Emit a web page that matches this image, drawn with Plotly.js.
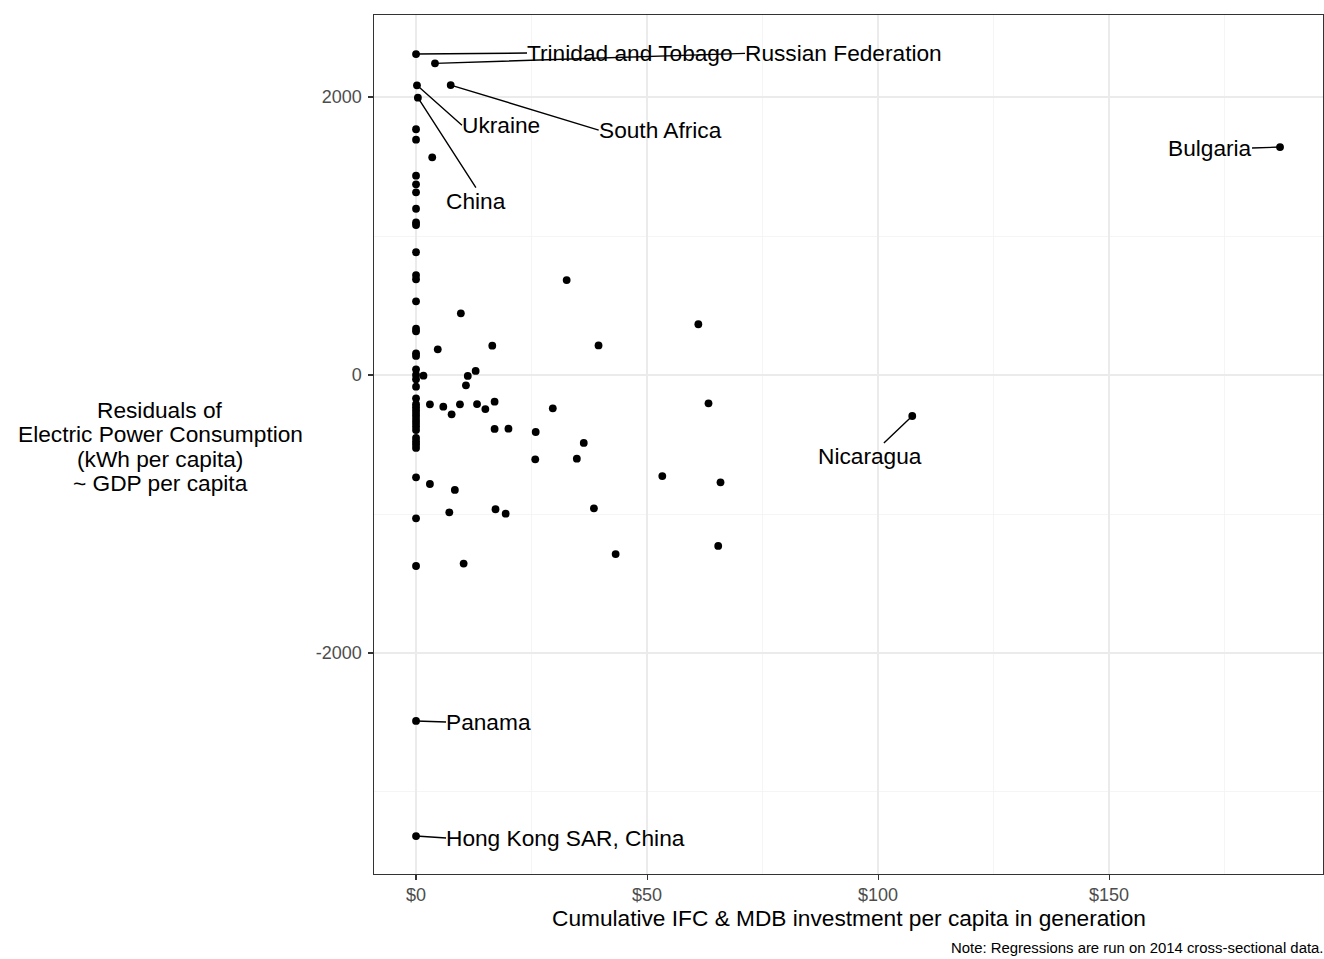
<!DOCTYPE html>
<html>
<head>
<meta charset="utf-8">
<script src="https://cdn.plot.ly/plotly-3.0.1.min.js"></script>
<style>html,body{margin:0;padding:0;background:#fff;}#chart{width:1324px;height:959px;}</style>
</head>
<body>
<div id="chart"></div>
<script>
// Labelled countries
const labeledCountries = ["Trinidad and Tobago", "Russian Federation", "Ukraine", "South Africa", "China", "Bulgaria", "Nicaragua", "Panama", "Hong Kong SAR, China"];
const labeledInvest = [0, 4.1, 0.2, 7.5, 0.4, 187, 107.4, 0, 0];
const labeledResid = [2309, 2242, 2084, 2086, 1995, 1640, -295, -2489, -3317];

// Other countries
const otherInvest = [
  0, 0, 0, 0, 0, 0, 0, 0, 0, 0, 0, 0, 0, 0, 0, 0, 0, 0, 0, 0,
  0, 0, 0, 0, 0, 0, 0, 0, 0, 0, 0, 0, 0, 0, 0, 0, 0,
  3.5, 32.6, 9.7, 61.1, 4.7, 16.5, 39.5, 1.6, 11.2, 12.9, 10.8,
  3.0, 5.9, 7.7, 9.5, 13.2, 15.0, 17.0, 29.6, 63.3, 17.0, 20.0,
  25.9, 36.3, 25.8, 34.8, 53.3, 65.9, 3.0, 8.4, 7.2, 17.2, 19.4,
  38.5, 65.4, 43.2, 10.3
];
const otherResid = [
  1768, 1693, 1434, 1372, 1314, 1196, 1098, 1079, 883, 719, 689, 530, 333, 314, 156, 137, 41, 0, -31, -84,
  -168, -210, -232, -255, -278, -300, -324, -346, -370, -396, -453, -478, -500, -525, -736, -1031, -1374,
  1566, 683, 444, 365, 185, 211, 213, -5, -7, 29, -74,
  -211, -228, -283, -211, -209, -245, -192, -240, -204, -388, -386,
  -410, -489, -607, -602, -727, -772, -784, -827, -988, -966, -998,
  -959, -1230, -1288, -1357
];

// Tick definitions
const xTickVals = [0, 50, 100, 150];
const xTickText = ["$0", "$50", "$100", "$150"];
const yTickVals = [-2000, 0, 2000];
const yTickText = ["-2000", "0", "2000"];

const yTitleLines = ["Residuals of", "Electric Power Consumption", "(kWh per capita)", "~ GDP per capita"];
const xTitle = "Cumulative IFC & MDB investment per capita in generation";
const noteText = "Note: Regressions are run on 2014 cross-sectional data.";

// label placement: [ax px, ay px, xanchor, yanchor]
const labelPlacement = [
  [111, -1, "left", "middle"],
  [310, -10, "left", "middle"],
  [45, 40, "left", "middle"],
  [148, 45, "left", "middle"],
  [58, 90, "center", "top"],
  [-28, 1, "right", "middle"],
  [-42, 40, "center", "middle"],
  [30, 1, "left", "middle"],
  [30, 2, "left", "middle"]
];

const FONT = "Liberation Sans, Arial, sans-serif";
const LABEL_SIZE = 22.7;

const traces = [
  {
    type: "scatter", mode: "markers",
    x: otherInvest, y: otherResid,
    marker: {color: "#000", size: 7.8},
    hoverinfo: "skip", showlegend: false
  },
  {
    type: "scatter", mode: "markers",
    x: labeledInvest, y: labeledResid, text: labeledCountries,
    marker: {color: "#000", size: 7.8},
    showlegend: false
  }
];

const annotations = [];
labeledCountries.forEach((name, i) => {
  const p = labelPlacement[i];
  annotations.push({
    x: labeledInvest[i], y: labeledResid[i], xref: "x", yref: "y",
    text: name, showarrow: true, arrowhead: 0, arrowwidth: 1.4, arrowcolor: "#000",
    ax: p[0], ay: p[1],
    xanchor: p[2], yanchor: p[3], standoff: 0, borderpad: 0, borderwidth: 0,
    font: {family: FONT, size: LABEL_SIZE, color: "#000"}
  });
});
const yTitleY = [410, 434.5, 459, 483.5];
yTitleLines.forEach((t, i) => {
  annotations.push({
    xref: "paper", yref: "paper", x: (160 - 374) / 949, y: (874 - yTitleY[i]) / 859,
    xanchor: "center", yanchor: "middle", showarrow: false, text: t,
    font: {family: FONT, size: LABEL_SIZE, color: "#000"}
  });
});
annotations.push({
  xref: "paper", yref: "paper", x: 0.5, y: (874 - 918) / 859,
  xanchor: "center", yanchor: "middle", showarrow: false, text: xTitle,
  font: {family: FONT, size: LABEL_SIZE, color: "#000"}
});
annotations.push({
  xref: "paper", yref: "paper", x: 1 + 2 / 949, y: (874 - 948) / 859,
  xanchor: "right", yanchor: "middle", showarrow: false, text: noteText,
  font: {family: FONT, size: 14.9, color: "#000"}
});

const layout = {
  width: 1324, height: 959,
  margin: {l: 374, r: 1, t: 15, b: 85},
  paper_bgcolor: "#fff", plot_bgcolor: "#fff",
  font: {family: FONT},
  showlegend: false,
  xaxis: {
    range: [-9.1, 196.3], tickvals: xTickVals, ticktext: xTickText,
    showgrid: true, gridcolor: "#ebebeb", gridwidth: 1.2,
    minor: {dtick: 25, tick0: 25, showgrid: true, gridcolor: "#f2f2f2", gridwidth: 0.8, ticks: ""},
    zeroline: false, showline: true, mirror: true, linecolor: "#333", linewidth: 1.2,
    ticks: "outside", ticklen: 4.5, tickcolor: "#333", tickwidth: 1.1,
    tickfont: {family: FONT, size: 18, color: "#4d4d4d"}
  },
  yaxis: {
    range: [-3590, 2590], tickvals: yTickVals, ticktext: yTickText,
    showgrid: true, gridcolor: "#ebebeb", gridwidth: 1.2,
    minor: {dtick: 1000, tick0: -3000, showgrid: true, gridcolor: "#f2f2f2", gridwidth: 0.8, ticks: ""},
    zeroline: false, showline: true, mirror: true, linecolor: "#333", linewidth: 1.2,
    ticks: "outside", ticklen: 4.5, tickcolor: "#333", tickwidth: 1.1,
    ticklabelstandoff: 3,
    tickfont: {family: FONT, size: 18, color: "#4d4d4d"}
  },
  annotations: annotations
};

Plotly.newPlot("chart", traces, layout, {displayModeBar: false, staticPlot: true});
</script>
</body>
</html>
